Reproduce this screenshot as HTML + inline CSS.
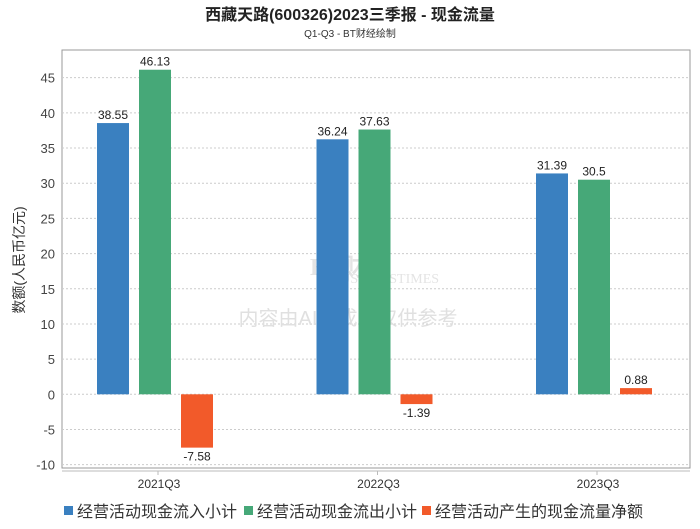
<!DOCTYPE html>
<html><head><meta charset="utf-8"><style>
body{margin:0;background:#fff;font-family:"Liberation Sans","Noto Sans CJK SC",sans-serif;}
</style></head><body>
<svg id="c" width="700" height="524" xmlns="http://www.w3.org/2000/svg">
<text x="350" y="20" text-anchor="middle" font-size="16" font-weight="bold" fill="#222" font-family="Liberation Sans,Noto Sans CJK SC,sans-serif">西藏天路(600326)2023三季报 - 现金流量</text>
<text x="350" y="37" text-anchor="middle" font-size="10" fill="#333" font-family="Liberation Sans,Noto Sans CJK SC,sans-serif">Q1-Q3 - BT财经绘制</text>
<rect x="62" y="50" width="628" height="418" fill="none" stroke="#999"/>
<line x1="62" y1="471" x2="690" y2="471" stroke="#bbb"/>
<text transform="translate(24,260) rotate(-90)" text-anchor="middle" font-size="14" fill="#333" font-family="Liberation Sans,Noto Sans CJK SC,sans-serif">数额(人民币亿元)</text>
<g id="grid"></g>
<text x="350" y="275" text-anchor="middle" font-size="24" font-weight="bold" fill="#e4e4e4" font-family="Liberation Serif,serif">BT财经</text>
<text x="385" y="283" text-anchor="middle" font-size="14" fill="#e4e4e4" font-family="Liberation Serif,serif">BUSINESSTIMES</text>
<text x="348" y="325" text-anchor="middle" font-size="20" fill="#e0e0e0" font-family="Liberation Sans,Noto Sans CJK SC,sans-serif">内容由AI生成，仅供参考</text>
<g id="bars"></g>
<g id="legend"></g>
</svg>
<script>
const categories=["2021Q3","2022Q3","2023Q3"];
const inflow=[38.55,36.24,31.39];
const outflow=[46.13,37.63,30.5];
const net=[-7.58,-1.39,0.88];
const yTicks=[45,40,35,30,25,20,15,10,5,0,-5,-10];
const seriesNames=["经营活动现金流入小计","经营活动现金流出小计","经营活动产生的现金流量净额"];
const colors=["#3a80c0","#46a878","#f25a2a"];
const NS="http://www.w3.org/2000/svg";
const y=v=>394.3-v*7.036;
const groupX=i=>155+i*219.5;
function mk(tag,attrs,parent,txt){const e=document.createElementNS(NS,tag);for(const k in attrs)e.setAttribute(k,attrs[k]);if(txt!==undefined)e.textContent=txt;parent.appendChild(e);return e;}
const grid=document.getElementById('grid');
yTicks.forEach(t=>{
 const l=mk('line',{x1:62,x2:690,y1:y(t),y2:y(t),stroke:'#ccc','stroke-dasharray':'2,2'},grid);
 
 
 const tx=mk('text',{x:55,y:y(t)+5,'text-anchor':'end','font-size':13,fill:'#444'},grid,String(t));
 
 
});
const bars=document.getElementById('bars');
const series=[inflow,outflow,net];
categories.forEach((c,i)=>{
 const cx=groupX(i);
 const tk=mk('line',{x1:cx+3,x2:cx+3,y1:471,y2:475,stroke:'#bbb'},bars);
 
 
 const cl=mk('text',{x:cx+4,y:488,'text-anchor':'middle','font-size':12,fill:'#333'},bars,c);
 
 
 series.forEach((s,j)=>{
  const v=s[i];const bx=cx-58+j*42;
  const top=Math.min(y(v),y(0)),h=Math.abs(y(v)-y(0));
  const r=mk('rect',{x:bx,y:top,width:32,height:h,fill:colors[j]},bars);
  
  
  const ly=v>=0?y(v)-4:y(v)+13;
  const lt=mk('text',{x:bx+16,y:ly,'text-anchor':'middle','font-size':12,fill:'#222'},bars,String(v));
  
  
 });
});
const lg=document.getElementById('legend');
const lx=[64,244,422];
seriesNames.forEach((n,j)=>{
 const r=mk('rect',{x:lx[j],y:506,width:9,height:9,fill:colors[j]},lg);
 
 
 const t=mk('text',{x:lx[j]+13,y:517,'font-size':16,fill:'#333'},lg,n);
 
 
});
</script>
</body></html>
